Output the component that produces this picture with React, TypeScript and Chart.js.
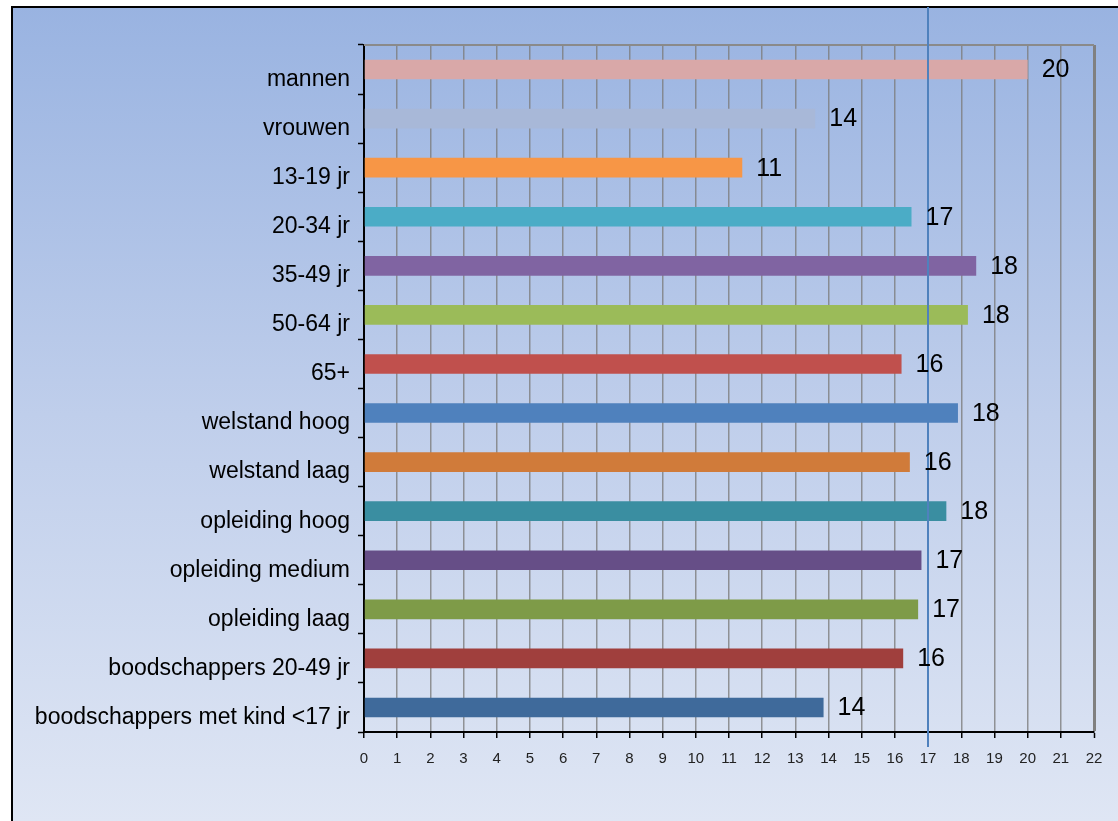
import React, { useEffect, useRef } from "react";
import { Chart, registerables } from "chart.js";

Chart.register(...registerables);

const categories = [
  "mannen",
  "vrouwen",
  "13-19 jr",
  "20-34 jr",
  "35-49 jr",
  "50-64 jr",
  "65+",
  "welstand hoog",
  "welstand laag",
  "opleiding hoog",
  "opleiding medium",
  "opleiding laag",
  "boodschappers 20-49 jr",
  "boodschappers met kind <17 jr",
];

const values = [20.0, 13.6, 11.4, 16.5, 18.45, 18.2, 16.2, 17.9, 16.45, 17.55, 16.8, 16.7, 16.25, 13.85];

const shownLabels = [20, 14, 11, 17, 18, 18, 16, 18, 16, 18, 17, 17, 16, 14];

const barColors = [
  "#D9A8A8",
  "#A8B8D8",
  "#F79646",
  "#4BACC6",
  "#8064A2",
  "#9BBB59",
  "#C0504D",
  "#4F81BD",
  "#D07B3A",
  "#3A8EA1",
  "#664E87",
  "#7E9B48",
  "#A03F3D",
  "#3F6A9B",
];

const xMin = 0;
const xMax = 22;
const xStep = 1;
const referenceValue = 17;

export default function App() {
  const canvasRef = useRef<HTMLCanvasElement | null>(null);

  useEffect(() => {
    document.body.style.margin = "0";
    const canvas = canvasRef.current;
    if (!canvas) return;

    const backgroundPlugin = {
      id: "bgPlugin",
      beforeDraw(chart: any) {
        const { ctx, width, height } = chart;
        ctx.save();
        ctx.fillStyle = "#ffffff";
        ctx.fillRect(0, 0, width, height);
        const g = ctx.createLinearGradient(0, 6, 0, height);
        g.addColorStop(0, "#99B3E1");
        g.addColorStop(0.5, "#BFCEEB");
        g.addColorStop(1, "#DFE6F4");
        ctx.fillStyle = g;
        ctx.fillRect(12, 7, width - 12, height - 7);
        ctx.strokeStyle = "#000000";
        ctx.lineWidth = 2;
        ctx.beginPath();
        ctx.moveTo(12, height);
        ctx.lineTo(12, 7);
        ctx.lineTo(width, 7);
        ctx.stroke();
        ctx.restore();
      },
      beforeDatasetsDraw(chart: any) {
        const { ctx, chartArea } = chart;
        ctx.save();
        ctx.strokeStyle = "#8a8a8a";
        ctx.lineWidth = 2;
        ctx.beginPath();
        ctx.moveTo(chartArea.left, chartArea.top);
        ctx.lineTo(chartArea.right, chartArea.top);
        ctx.stroke();
        ctx.restore();
      },
    };

    const overlayPlugin = {
      id: "overlayPlugin",
      afterDatasetsDraw(chart: any) {
        const { ctx, chartArea } = chart;
        const xScale = chart.scales.x;
        ctx.save();
        // reference line
        const rx = Math.round(xScale.getPixelForValue(referenceValue));
        ctx.strokeStyle = "#4F81BD";
        ctx.lineWidth = 2;
        ctx.beginPath();
        ctx.moveTo(rx, 7);
        ctx.lineTo(rx, chartArea.bottom + 15);
        ctx.stroke();
        // value labels
        const meta = chart.getDatasetMeta(0);
        ctx.fillStyle = "#000000";
        ctx.font = "25px 'Liberation Sans', Arial, sans-serif";
        ctx.textAlign = "left";
        ctx.textBaseline = "middle";
        meta.data.forEach((bar: any, i: number) => {
          ctx.fillText(String(shownLabels[i]), bar.x + 14, bar.y + 1);
        });
        ctx.restore();
      },
    };

    const chart = new Chart(canvas, {
      type: "bar",
      data: {
        labels: categories,
        datasets: [
          {
            data: values,
            backgroundColor: barColors,
            borderWidth: 0,
            categoryPercentage: 1,
            barPercentage: 0.4,
          },
        ],
      },
      options: {
        indexAxis: "y",
        responsive: false,
        animation: false,
        maintainAspectRatio: false,
        layout: { padding: { left: 0, top: 45, right: 24, bottom: 49 } },
        plugins: {
          legend: { display: false },
          tooltip: { enabled: false },
          title: { display: false },
        },
        scales: {
          x: {
            type: "linear",
            position: "bottom",
            min: xMin,
            max: xMax,
            afterFit(scale: any) {
              scale.height = 40;
            },
            ticks: {
              stepSize: xStep,
              color: "#222222",
              font: { family: "'Liberation Sans', Arial, sans-serif", size: 15 },
              padding: 12,
              maxRotation: 0,
              autoSkip: false,
            },
            grid: {
              color: (c: any) => (c.index === 22 ? "#808080" : "rgba(125,125,125,0.8)"),
              lineWidth: (c: any) => (c.index === 22 ? 3 : 1.5),
              tickColor: "#000000",
              tickLength: 6,
              tickWidth: 1.5,
            },
            border: { color: "#000000", width: 2 },
          },
          y: {
            type: "category",
            position: "left",
            afterFit(scale: any) {
              scale.width = 364;
            },
            ticks: {
              color: "#000000",
              font: { family: "'Liberation Sans', Arial, sans-serif", size: 23 },
              padding: 8,
              labelOffset: 10,
              autoSkip: false,
            },
            grid: {
              display: true,
              drawOnChartArea: false,
              offset: true,
              tickColor: "#000000",
              tickLength: 6,
              tickWidth: 1.5,
            },
            border: { color: "#000000", width: 2 },
          },
        },
      },
      plugins: [backgroundPlugin, overlayPlugin],
    });

    return () => {
      chart.destroy();
    };
  }, []);

  return (
    <div style={{ width: 1118, height: 821 }}>
      <canvas ref={canvasRef} width={1118} height={821} style={{ display: "block" }} />
    </div>
  );
}
